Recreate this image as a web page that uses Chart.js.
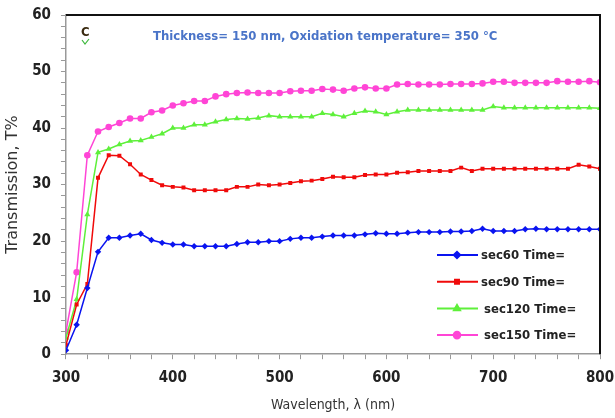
<!DOCTYPE html>
<html>
<head>
<meta charset="utf-8">
<script src="https://cdn.jsdelivr.net/npm/chart.js@4.4.1/dist/chart.umd.min.js"></script>
<style>
  html, body { margin: 0; padding: 0; background: #fff; }
  #wrap { width: 615px; height: 418px; }
</style>
</head>
<body>
<div id="wrap"><canvas id="c"></canvas></div>
<script>
const wavelengths = [300,310,320,330,340,350,360,370,380,390,400,410,420,430,440,450,460,470,480,490,500,
  510,520,530,540,550,560,570,580,590,600,610,620,630,640,650,660,670,680,690,700,
  710,720,730,740,750,760,770,780,790,800];

const t60 = [0.7,5.2,11.7,18.1,20.6,20.6,21.0,21.3,20.2,19.7,19.4,19.4,19.1,19.1,19.1,19.1,19.5,19.8,19.8,20.0,20.0,
  20.4,20.6,20.6,20.8,21.0,21.0,21.0,21.2,21.4,21.3,21.3,21.5,21.6,21.6,21.6,21.7,21.7,21.8,22.2,21.8,
  21.8,21.8,22.1,22.2,22.1,22.1,22.1,22.1,22.1,22.1];
const t90 = [1.6,8.8,12.4,31.2,35.2,35.1,33.6,31.8,30.8,29.9,29.6,29.5,29.0,29.0,29.0,29.0,29.6,29.6,30.0,29.9,30.0,
  30.3,30.6,30.7,31.0,31.4,31.3,31.3,31.7,31.8,31.8,32.1,32.2,32.4,32.4,32.4,32.4,33.0,32.4,32.8,32.8,
  32.8,32.8,32.8,32.8,32.8,32.8,32.8,33.5,33.2,32.8];
const t120 = [2.9,9.7,24.7,35.7,36.3,37.1,37.7,37.8,38.4,39.0,40.0,40.0,40.6,40.6,41.1,41.5,41.7,41.6,41.8,42.2,42.0,
  42.0,42.0,42.0,42.6,42.4,42.0,42.6,43.0,42.9,42.4,42.9,43.2,43.2,43.2,43.2,43.2,43.2,43.2,43.2,43.8,
  43.6,43.6,43.6,43.6,43.6,43.6,43.6,43.6,43.6,43.5];
const t150 = [4.0,14.5,35.2,39.4,40.2,40.9,41.7,41.7,42.8,43.1,44.0,44.4,44.8,44.8,45.6,46.0,46.2,46.3,46.2,46.2,46.2,
  46.5,46.6,46.6,46.9,46.8,46.6,47.0,47.2,47.0,47.0,47.7,47.8,47.7,47.7,47.7,47.8,47.8,47.8,47.9,48.2,
  48.2,48.0,48.0,48.0,48.0,48.3,48.2,48.2,48.3,48.1];

const seriesLabels = ['sec60 Time=', 'sec90 Time=', 'sec120 Time=', 'sec150 Time='];
const xTickLabels = [300, 400, 500, 600, 700, 800];
const yTickLabels = [0, 10, 20, 30, 40, 50, 60];

const COND = '"DejaVu Sans Condensed", "Liberation Sans", Arial';

function pts(vals) {
  return vals.map((v, i) => ({ x: wavelengths[i], y: v }));
}

const styles = [
  { color: '#0a14f0', point: 'rectRot', r: 3.2 },
  { color: '#f00a0a', point: 'rect', r: 2.8 },
  { color: '#5ef03a', point: 'triangle', r: 3.5 },
  { color: '#ff45d6', point: 'circle', r: 3.3 }
];

const allSeries = [t60, t90, t120, t150];

const extras = {
  id: 'extras',
  afterDraw(chart) {
    const ctx = chart.ctx;
    const a = chart.chartArea;
    ctx.save();
    // top and right frame
    ctx.strokeStyle = '#111';
    ctx.lineWidth = 2;
    ctx.beginPath();
    ctx.moveTo(a.left, a.top);
    ctx.lineTo(a.right, a.top);
    ctx.lineTo(a.right, a.bottom);
    ctx.stroke();

    // annotation texts
    ctx.font = 'bold 13px ' + COND;
    ctx.fillStyle = '#4a74c8';
    ctx.textBaseline = 'middle';
    ctx.textAlign = 'left';
    ctx.fillText('Thickness= 150 nm, Oxidation temperature= 350 \u00b0C', 153, 37);
    ctx.fillStyle = '#3a2a10';
    ctx.font = 'bold 13px ' + COND;
    ctx.fillText('C', 81, 33);
    // small green tick under the C
    ctx.strokeStyle = '#3cb83c';
    ctx.lineWidth = 1.2;
    ctx.beginPath();
    ctx.moveTo(82, 40);
    ctx.lineTo(85, 44);
    ctx.lineTo(89, 39);
    ctx.stroke();

    // legend
    const lx = 437, ly = 255, gap = 26.7;
    chart.data.datasets.forEach((ds, i) => {
      const y = ly + i * gap;
      ctx.strokeStyle = ds.borderColor;
      ctx.lineWidth = 2;
      ctx.beginPath();
      ctx.moveTo(lx, y);
      ctx.lineTo(lx + 41, y);
      ctx.stroke();
      ctx.fillStyle = ds.borderColor;
      Chart.helpers.drawPoint(ctx, { pointStyle: ds.pointStyle, radius: ds.pointRadius, borderWidth: 1 }, lx + 20, y);
      ctx.fill();
      ctx.fillStyle = '#222';
      ctx.font = 'bold 13px ' + COND;
      ctx.textAlign = 'left';
      ctx.fillText(ds.label, lx + 44 + (i >= 2 ? 3 : 0), y + 1);
    });
    ctx.restore();
  }
};

new Chart(document.getElementById('c'), {
  type: 'line',
  data: {
    datasets: allSeries.map((s, i) => ({
      label: seriesLabels[i],
      data: pts(s),
      borderColor: styles[i].color,
      backgroundColor: styles[i].color,
      pointStyle: styles[i].point,
      pointRadius: styles[i].r,
      pointBorderWidth: 0,
      borderWidth: 1.5,
      tension: 0
    }))
  },
  options: {
    responsive: true,
    maintainAspectRatio: false,
    animation: false,
    layout: { padding: { top: 15, right: 15, left: 3, bottom: 4 } },
    plugins: {
      legend: { display: false },
      tooltip: { enabled: false }
    },
    scales: {
      x: {
        type: 'linear',
        min: 300,
        max: 800,
        afterBuildTicks: (axis) => {
          const t = [];
          for (let v = 300; v <= 800; v += 20) t.push({ value: v });
          xTickLabels.forEach(v => { if (!t.find(k => k.value === v)) t.push({ value: v }); });
          t.sort((p, q) => p.value - q.value);
          axis.ticks = t;
        },
        afterFit: (s) => { s.paddingRight = 0; s.paddingLeft = 0; },
        ticks: {
          autoSkip: false,
          maxRotation: 0,
          color: '#222',
          padding: 10,
          font: { size: 15, weight: 'bold', family: COND },
          callback: (v) => xTickLabels.includes(v) ? String(v) : ''
        },
        grid: { drawOnChartArea: false, tickLength: 5, color: '#999' },
        border: { color: '#999', width: 1.5 },
        title: {
          display: true,
          text: 'Wavelength, \u03bb (nm)',
          color: '#333',
          font: { size: 14, family: COND },
          padding: { top: 0, bottom: 0 }
        }
      },
      y: {
        min: 0,
        max: 60,
        afterBuildTicks: (axis) => {
          const t = [];
          for (let v = 0; v <= 60; v += 2) t.push({ value: v });
          axis.ticks = t;
        },
        afterFit: (s) => { s.paddingTop = 0; s.paddingBottom = 0; },
        ticks: {
          autoSkip: false,
          color: '#222',
          padding: 10,
          font: { size: 15, weight: 'bold', family: COND },
          callback: (v) => yTickLabels.includes(v) ? String(v) : ''
        },
        grid: { drawOnChartArea: false, tickLength: 5, color: '#999' },
        border: { color: '#999', width: 1.5 },
        title: {
          display: true,
          text: 'Transmission, T%',
          color: '#333',
          font: { size: 16, family: '"DejaVu Sans", Arial' },
          padding: { top: 0, bottom: 0 }
        }
      }
    }
  },
  plugins: [extras]
});
</script>
</body>
</html>
